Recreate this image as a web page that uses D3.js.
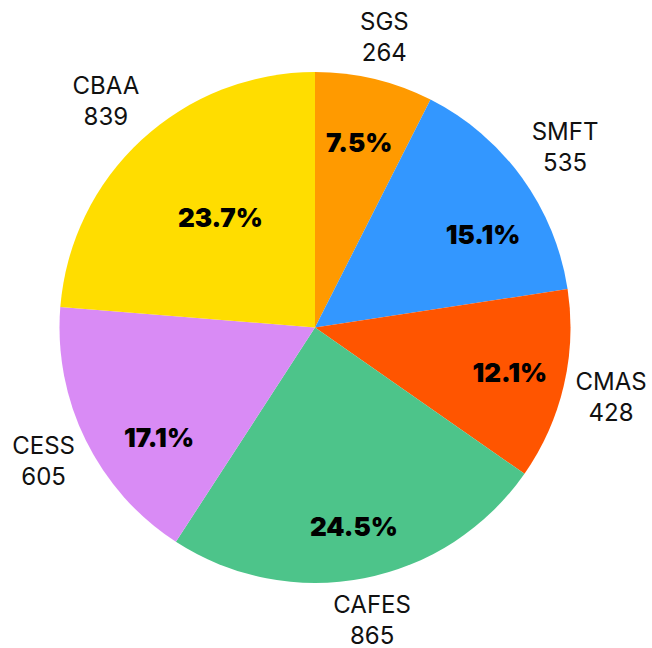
<!DOCTYPE html>
<html>
<head>
<meta charset="utf-8">
<script src="https://cdn.jsdelivr.net/npm/d3@7.9.0/dist/d3.min.js"></script>
<style>
  html, body { margin: 0; padding: 0; background: #fff; }
  svg { display: block; font-family: Inter, "Noto Sans", sans-serif; }
  .name { font-size: 24px; fill: #111; }
  .pct { font-size: 26px; font-weight: 900; fill: #000; }
</style>
</head>
<body>
<svg id="chart" width="652" height="648"></svg>
<script>
// Data
const categories = ['SGS', 'SMFT', 'CMAS', 'CAFES', 'CESS', 'CBAA'];
const counts = [264, 535, 428, 865, 605, 839];
const colors = ['#FF9A00', '#3397FF', '#FF5500', '#4DC48A', '#D98BF5', '#FFDD00'];

// Inside label placement tweaks: [angle shift in degrees, radius]
const insideLabelPlacement = [[0, 190], [7, 192], [0, 200], [0, 203], [-9, 191], [2, 145]];

const width = 652;
const height = 648;
const cx = 315;
const cy = 327.5;
const radius = 255.5;
const svg = d3.select('#chart');

const total = d3.sum(counts);
const data = categories.map((c, i) => ({ label: c, value: counts[i], color: colors[i] }));

const pie = d3.pie().value(d => d.value).sort(null);
const arcs = pie(data);
const arcGen = d3.arc().innerRadius(0).outerRadius(radius);

const g = svg.append('g').attr('transform', `translate(${cx},${cy})`);

// Slices
g.selectAll('path')
  .data(arcs)
  .enter()
  .append('path')
  .attr('d', arcGen)
  .attr('fill', d => d.data.color);

// Percent labels inside the slices
g.selectAll('text.pct')
  .data(arcs)
  .enter()
  .append('text')
  .attr('class', 'pct')
  .attr('text-anchor', 'middle')
  .attr('dy', '0.36em')
  .attr('x', (d, i) => {
    const a = (d.startAngle + d.endAngle) / 2 + insideLabelPlacement[i][0] * Math.PI / 180;
    return Math.sin(a) * insideLabelPlacement[i][1];
  })
  .attr('y', (d, i) => {
    const a = (d.startAngle + d.endAngle) / 2 + insideLabelPlacement[i][0] * Math.PI / 180;
    return -Math.cos(a) * insideLabelPlacement[i][1];
  })
  .text(d => d3.format('.1f')(d.data.value / total * 100) + '%');

// Outside labels: name + count, box pushed just beyond the rim
const gap = 12;
const lineH = 31;
arcs.forEach(d => {
  const a = (d.startAngle + d.endAngle) / 2;
  const ux = Math.sin(a);
  const uy = -Math.cos(a);
  const t = g.append('text').attr('class', 'name').attr('text-anchor', 'middle');
  t.append('tspan').attr('x', 0).attr('dy', 0).text(d.data.label);
  t.append('tspan').attr('x', 0).attr('dy', lineH).text(d.data.value);
  const bb = t.node().getBBox();
  const hw = bb.width / 2;
  const hh = bb.height / 2;
  const ext = Math.min(Math.abs(ux) > 1e-6 ? hw / Math.abs(ux) : Infinity,
                       Math.abs(uy) > 1e-6 ? hh / Math.abs(uy) : Infinity);
  const r = radius + gap + ext;
  const px = ux * r;
  const py = uy * r;
  // shift so that the box centre sits at (px, py)
  const bcy = bb.y + bb.height / 2;
  t.attr('transform', `translate(${px},${py - bcy})`);
});
</script>
</body>
</html>
